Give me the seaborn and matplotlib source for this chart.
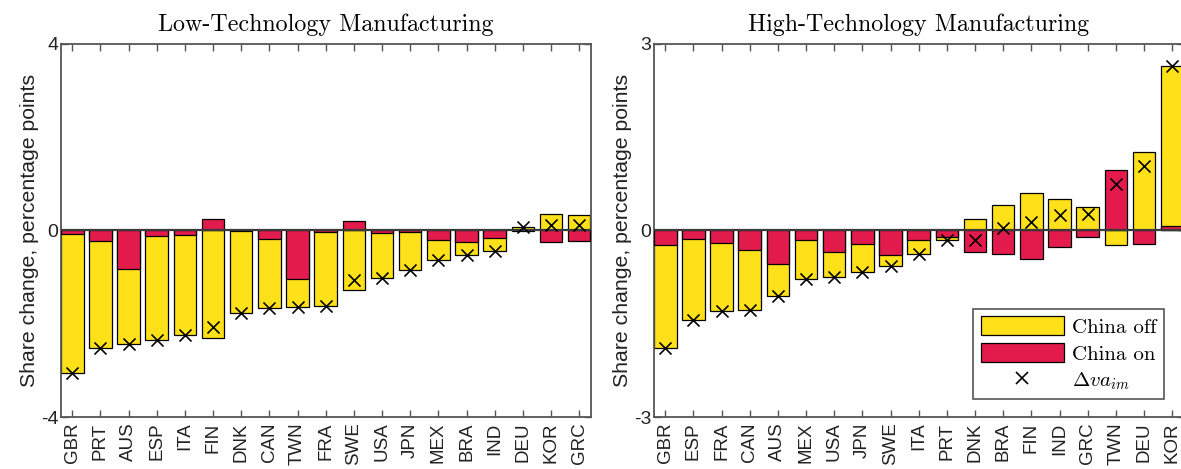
import numpy as np
import pandas as pd
import matplotlib
matplotlib.use("Agg")
import matplotlib.pyplot as plt
from matplotlib.patches import Patch
from matplotlib.lines import Line2D
import seaborn as sns

# ---------------- data ----------------
low_countries = ["GBR", "PRT", "AUS", "ESP", "ITA", "FIN", "DNK", "CAN", "TWN", "FRA",
                 "SWE", "USA", "JPN", "MEX", "BRA", "IND", "DEU", "KOR", "GRC"]
low_off = [-2.98, -2.28, -1.62, -2.22, -2.15, -2.30, -1.75, -1.48, -0.59, -1.58,
           -1.28, -0.97, -0.80, -0.43, -0.29, -0.28, 0.08, 0.35, 0.33]
low_on = [-0.07, -0.23, -0.82, -0.12, -0.09, 0.24, -0.01, -0.18, -1.05, -0.03,
          0.21, -0.05, -0.04, -0.20, -0.24, -0.16, -0.01, -0.24, -0.22]

high_countries = ["GBR", "ESP", "FRA", "CAN", "AUS", "MEX", "USA", "JPN", "SWE", "ITA",
                  "PRT", "DNK", "BRA", "FIN", "IND", "GRC", "TWN", "DEU", "KOR"]
high_off = [-1.65, -1.30, -1.09, -0.965, -0.51, -0.63, -0.40, -0.45, -0.18, -0.225,
            -0.045, 0.19, 0.41, 0.605, 0.51, 0.38, -0.24, 1.26, 2.57]
high_on = [-0.236, -0.134, -0.20, -0.31, -0.536, -0.145, -0.343, -0.214, -0.39, -0.155,
           -0.10, -0.343, -0.37, -0.466, -0.268, -0.107, 0.98, -0.22, 0.08]

titles = ["Low-Technology Manufacturing", "High-Technology Manufacturing"]
ylims = [4, 3]
ylabel = "Share change, percentage points"
legend_labels = ["China off", "China on", r"$\Delta va_{im}$"]

YELLOW = "#FFE119"
RED = "#E31B4C"
SPINE = "#555555"

# ---------------- style ----------------
sns.set_theme(style="white")
plt.rcParams["font.family"] = ["Liberation Sans", "DejaVu Sans"]
plt.rcParams["mathtext.fontset"] = "cm"
plt.rcParams["axes.unicode_minus"] = False
plt.rcParams["text.color"] = "black"
plt.rcParams["axes.labelcolor"] = "#222222"
plt.rcParams["xtick.labelcolor"] = "#222222"
plt.rcParams["ytick.labelcolor"] = "#222222"

W, H = 1181, 469
fig = plt.figure(figsize=(W / 100, H / 100), dpi=100)
ax_pos = [(61, 44, 591, 417), (654, 44, 1184, 417)]

panels = [(low_countries, low_off, low_on), (high_countries, high_off, high_on)]

for i, (countries, off, on) in enumerate(panels):
    x0, y0, x1, y1 = ax_pos[i]
    ax = fig.add_axes([x0 / W, 1 - y1 / H, (x1 - x0) / W, (y1 - y0) / H])
    off = np.array(off)
    on = np.array(on)
    net = off + on
    # "China on" bars start at zero; "China off" stacks on them when same sign
    outer = np.where(np.sign(off) == np.sign(on), off + on, off)
    df = pd.DataFrame({"country": countries, "outer": outer, "on": on, "net": net})

    sns.barplot(data=df, x="country", y="outer", order=countries, color=YELLOW,
                saturation=1, width=0.8, edgecolor="black", linewidth=0.9, ax=ax, zorder=2)
    sns.barplot(data=df, x="country", y="on", order=countries, color=RED,
                saturation=1, width=0.8, edgecolor="black", linewidth=0.9, ax=ax, zorder=3)
    ax.axhline(0, color="#3a3a3a", lw=1.6, zorder=4)
    sns.scatterplot(x=np.arange(len(countries)), y=df["net"].values, marker="x", s=75,
                    color="black", linewidth=1.2, ax=ax, zorder=5)

    lim = ylims[i]
    ax.set_ylim(-lim, lim)
    ax.set_xlim(-0.4, len(countries) - 0.58)
    ax.set_yticks([-lim, 0, lim])
    ax.set_yticklabels([f"-{lim}", "0", f"{lim}"], fontsize=14)
    ax.set_xticks(np.arange(len(countries)))
    ax.set_xticklabels(countries, rotation=90, fontsize=13.5)
    ax.tick_params(axis="x", direction="in", top=True, bottom=True, length=5,
                   width=1, color=SPINE, pad=4)
    ax.tick_params(axis="y", direction="in", left=True, right=True, length=5,
                   width=1, color=SPINE, pad=2)
    for s in ax.spines.values():
        s.set_color(SPINE)
        s.set_linewidth(1.3)
    ax.set_xlabel("")
    ax.set_ylabel(ylabel, fontsize=15.3, labelpad=1)
    ax.set_title(titles[i], family="cmr10", fontsize=17.3, pad=9, color="black")

    if i == 1:
        handles = [Patch(facecolor=YELLOW, edgecolor="black", lw=0.9),
                   Patch(facecolor=RED, edgecolor="black", lw=0.9),
                   Line2D([], [], ls="none", marker="x", color="black", ms=9, mew=1.2)]
        leg = ax.legend(handles, legend_labels, loc="lower right",
                        bbox_to_anchor=(0.962, 0.048), borderaxespad=0,
                        prop={"family": "cmr10", "size": 15}, frameon=True,
                        fancybox=False, framealpha=1, edgecolor=SPINE,
                        handlelength=4.0, handleheight=1.0, labelspacing=0.3,
                        handletextpad=0.4, borderpad=0.35)
        leg.get_frame().set_linewidth(1.2)
        for t in leg.get_texts():
            t.set_color("black")

fig.savefig("out.png", dpi=100)
